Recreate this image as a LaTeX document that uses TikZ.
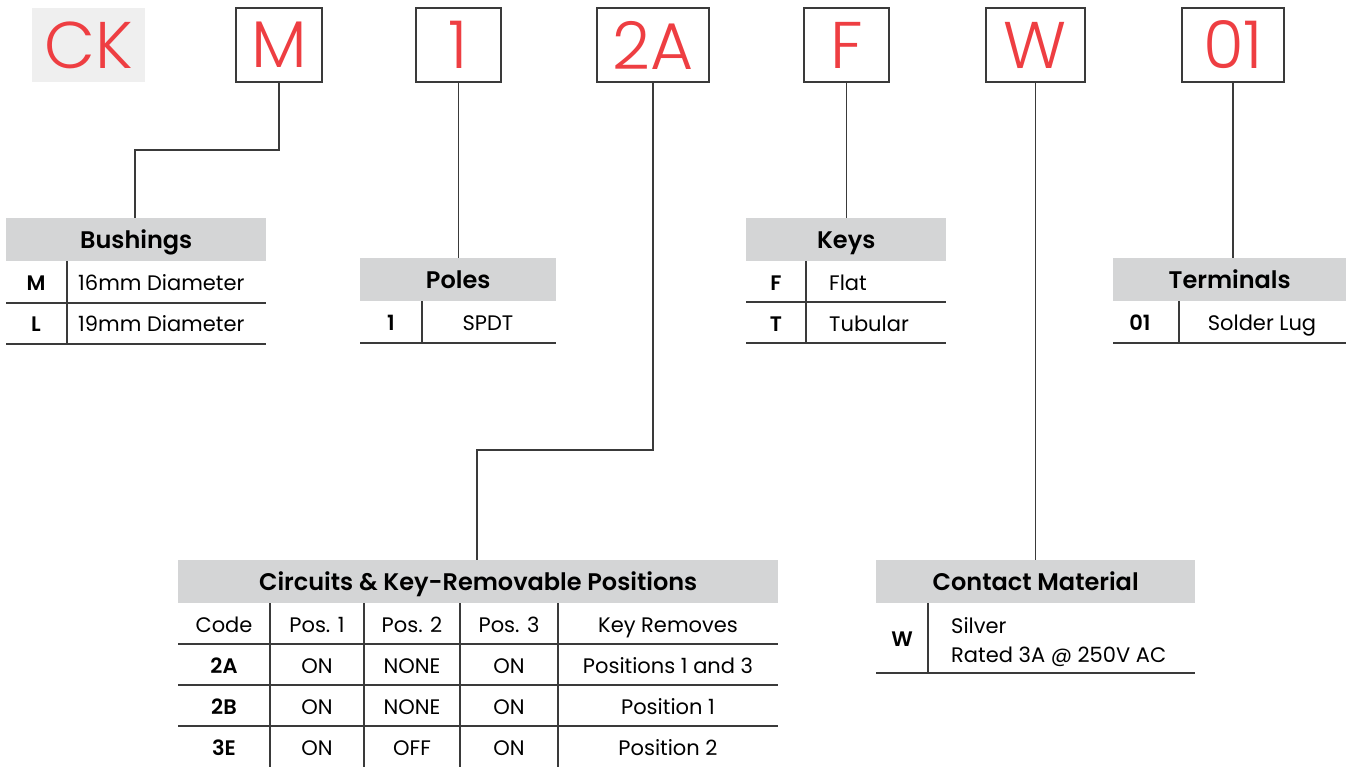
\documentclass[tikz,border=0pt]{standalone}
\usepackage{fontspec}
\setmainfont{Poppins}[BoldFont={Poppins SemiBold}]
\newfontfamily\lightfont{Poppins Light}
\usetikzlibrary{calc}
\definecolor{ckred}{HTML}{EE3E42}
\definecolor{hdrgray}{HTML}{D4D5D6}
\definecolor{ckgray}{HTML}{EFEFEF}
\definecolor{linec}{HTML}{3A3A3A}
\tikzset{
  codebox/.style={draw=linec, line width=2.6pt, fill=white, text=ckred, inner sep=0pt, font=\lightfont\fontsize{66}{70}\selectfont},
  hdr/.style={fill=hdrgray, inner sep=0pt, anchor=north west, text height=17pt, text depth=0pt, font=\fontsize{24}{28}\selectfont\bfseries},
  cell/.style={inner sep=0pt, text height=18.7pt, text depth=4pt, font=\fontsize{21}{25}\selectfont},
  bcell/.style={cell, font=\fontsize{21}{25}\selectfont\bfseries},
  conn/.style={draw=linec, line width=1.2pt},
  rule/.style={draw=linec, line width=1.4pt},
}
\begin{document}
\begin{tikzpicture}[x=1pt,y=-1pt]
\useasboundingbox (0,0) rectangle (1346,767);
% top code row
\node[fill=ckgray, text=ckred, inner sep=0pt, minimum width=113pt, minimum height=74pt, font=\lightfont\fontsize{66}{70}\selectfont] (bCK) at (88.5,45) {CK};
\node[codebox, minimum width=86pt, minimum height=74pt] (bM) at (279,45) {M};
\node[codebox, minimum width=85pt, minimum height=74pt] (b1) at (458.5,45) {1};
\node[codebox, minimum width=112pt, minimum height=74pt] (b2A) at (653,45) {2A};
\node[codebox, minimum width=85pt, minimum height=74pt] (bF) at (846.5,45) {F};
\node[codebox, minimum width=99pt, minimum height=74pt] (bW) at (1035.5,45) {W};
\node[codebox, minimum width=102pt, minimum height=74pt] (b01) at (1233,45) {01};

% Bushings
\node[hdr, minimum width=260pt, minimum height=43pt] (hB) at (6,218) {Bushings};
\draw[rule] (6,303) -- (266,303);
\draw[rule] (6,344) -- (266,344);
\draw[rule] (67,261) -- (67,344);
\node[bcell] (bM1) at (36,283) {M};
\node[cell, anchor=west] (bM2) at (78,283) {16mm Diameter};
\node[bcell] (bL1) at (36,324) {L};
\node[cell, anchor=west] (bL2) at (78,324) {19mm Diameter};

% Poles
\node[hdr, minimum width=196pt, minimum height=43pt] (hP) at (360,258) {Poles};
\draw[rule] (360,343) -- (556,343);
\draw[rule] (422,301) -- (422,343);
\node[bcell] (p1) at (391,323) {1};
\node[cell] (p2) at (488,323) {SPDT};

% Keys
\node[hdr, minimum width=200pt, minimum height=43pt] (hK) at (746,218) {Keys};
\draw[rule] (746,302) -- (946,302);
\draw[rule] (746,343) -- (946,343);
\draw[rule] (806,261) -- (806,343);
\node[bcell] (kF1) at (776,283) {F};
\node[cell, anchor=west] (kF2) at (829,283) {Flat};
\node[bcell] (kT1) at (776,324) {T};
\node[cell, anchor=west] (kT2) at (829,324) {Tubular};

% Terminals
\node[hdr, minimum width=233pt, minimum height=43pt] (hT) at (1113,258) {Terminals};
\draw[rule] (1113,343) -- (1346,343);
\draw[rule] (1179,301) -- (1179,343);
\node[bcell] (t1) at (1140,323) {01};
\node[cell] (t2) at (1262,323) {Solder Lug};

% Circuits
\node[hdr, minimum width=600pt, minimum height=43pt] (hC) at (178,560) {Circuits \& Key-Removable Positions};
\draw[rule] (178,644) -- (778,644);
\draw[rule] (178,685) -- (778,685);
\draw[rule] (178,726) -- (778,726);
\foreach \xx in {270,364,460,558} \draw[rule] (\xx,603) -- (\xx,767);
\node[cell] (c00) at (224,625) {Code};
\node[cell] (c01) at (317,625) {Pos. 1};
\node[cell] (c02) at (412,625) {Pos. 2};
\node[cell] (c03) at (509,625) {Pos. 3};
\node[cell] (c04) at (668,625) {Key Removes};
\node[bcell] (c10) at (224,666) {2A};
\node[cell] (c11) at (317,666) {ON};
\node[cell] (c12) at (412,666) {NONE};
\node[cell] (c13) at (509,666) {ON};
\node[cell] (c14) at (668,666) {Positions 1 and 3};
\node[bcell] (c20) at (224,707) {2B};
\node[cell] (c21) at (317,707) {ON};
\node[cell] (c22) at (412,707) {NONE};
\node[cell] (c23) at (509,707) {ON};
\node[cell] (c24) at (668,707) {Position 1};
\node[bcell] (c30) at (224,748) {3E};
\node[cell] (c31) at (317,748) {ON};
\node[cell] (c32) at (412,748) {OFF};
\node[cell] (c33) at (509,748) {ON};
\node[cell] (c34) at (668,748) {Position 2};

% Contact Material
\node[hdr, minimum width=319pt, minimum height=43pt] (hM) at (876,560) {Contact Material};
\draw[rule] (876,673) -- (1195,673);
\draw[rule] (928,603) -- (928,673);
\node[bcell] (m1) at (902,639) {W};
\node[cell, anchor=west] (m2) at (951,626) {Silver};
\node[cell, anchor=west] (m3) at (951,655) {Rated 3A @ 250V AC};

% connectors
\coordinate (jM) at (279,150);
\coordinate (jB) at (135,150);
\draw[conn] (bM.south) -- (jM) -- (jB) -- (jB |- hB.north);
\draw[conn] (b1.south) -- (b1.south |- hP.north);
\coordinate (j2A) at (653,450);
\coordinate (jC) at (477,450);
\draw[conn] (b2A.south) -- (j2A) -- (jC) -- (jC |- hC.north);
\draw[conn] (bF.south) -- (bF.south |- hK.north);
\draw[conn] (bW.south) -- (bW.south |- hM.north);
\draw[conn] (b01.south) -- (b01.south |- hT.north);
\end{tikzpicture}
\end{document}
